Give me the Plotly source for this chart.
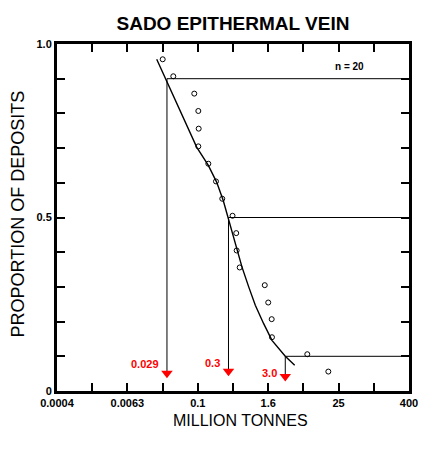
import math
import plotly.graph_objects as go

# ---- data ----
deposit_tonnage = [0.0257, 0.0390, 0.0891, 0.1045, 0.106, 0.1045, 0.155, 0.2095, 0.2685,
                   0.402, 0.465, 0.473, 0.533, 1.43, 1.64, 1.88, 1.90, 7.64, 17.5]
deposit_proportion = [0.956, 0.907, 0.857, 0.807, 0.756, 0.705, 0.655, 0.604, 0.554,
                      0.505, 0.455, 0.405, 0.356, 0.305, 0.255, 0.207, 0.155, 0.106, 0.056]

curve_tonnage = [0.0203, 0.0292, 0.0446, 0.0661, 0.0979, 0.155, 0.215, 0.279, 0.343,
                 0.448, 0.584, 0.760, 0.986, 1.37, 1.90, 3.21, 4.65]
curve_proportion = [0.956, 0.897, 0.828, 0.765, 0.703, 0.650, 0.602, 0.549, 0.497,
                    0.425, 0.357, 0.300, 0.247, 0.194, 0.146, 0.100, 0.074]

percentile_levels = [0.9, 0.5, 0.1]
percentile_tonnage = [0.0304, 0.343, 3.21]
percentile_labels = ["0.029", "0.3", "3.0"]
arrow_proportion = [0.051, 0.057, 0.042]
label_proportion = [0.077, 0.080, 0.052]

x_tick_vals = [0.0004, 0.0016, 0.0064, 0.0256, 0.1024, 0.4096, 1.6384, 6.5536,
               26.2144, 104.8576, 419.4304]
x_tick_text = ["0.0004", "", "0.0063", "", "0.1", "", "1.6", "", "25", "", "400"]
y_tick_vals = [0, 0.1, 0.2, 0.3, 0.4, 0.5, 0.6, 0.7, 0.8, 0.9, 1.0]
y_tick_text = ["0", "", "", "", "", "0.5", "", "", "", "", "1.0"]

n_deposits = 20
title_text = "SADO EPITHERMAL VEIN"
x_title = "MILLION TONNES"
y_title = "PROPORTION OF DEPOSITS"

FONT = "Arial, Liberation Sans, sans-serif"
x_max = x_tick_vals[-1]


def bold(labels):
    return ["<b>%s</b>" % t if t else "" for t in labels]


fig = go.Figure()

# percentile construction lines
for lvl, xt in zip(percentile_levels, percentile_tonnage):
    fig.add_trace(go.Scatter(x=[xt, x_max], y=[lvl, lvl], mode="lines",
                             line=dict(color="black", width=1), hoverinfo="skip",
                             showlegend=False))
for lvl, xt, ya in zip(percentile_levels, percentile_tonnage, arrow_proportion):
    fig.add_trace(go.Scatter(x=[xt, xt], y=[lvl, ya], mode="lines",
                             line=dict(color="black", width=1), hoverinfo="skip",
                             showlegend=False))

# fitted curve
fig.add_trace(go.Scatter(x=curve_tonnage, y=curve_proportion, mode="lines",
                         line=dict(color="black", width=1.4), showlegend=False))

# observed deposits
fig.add_trace(go.Scatter(x=deposit_tonnage, y=deposit_proportion, mode="markers",
                         marker=dict(symbol="circle-open", size=5, color="black",
                                     line=dict(width=1, color="black")),
                         showlegend=False))

# red arrow heads
fig.add_trace(go.Scatter(x=percentile_tonnage, y=arrow_proportion, mode="markers",
                         marker=dict(symbol="triangle-down", size=10, color="#ff0000"),
                         showlegend=False))

annotations = []
for xt, yl, txt in zip(percentile_tonnage, label_proportion, percentile_labels):
    annotations.append(dict(x=math.log10(xt), y=yl, xref="x", yref="y",
                            text="<b>" + txt + "</b>",
                            showarrow=False, xanchor="right", yanchor="middle", xshift=-6,
                            font=dict(family=FONT, size=11, color="#ff0000")))

annotations.append(dict(x=0.832, y=0.934, xref="paper", yref="paper",
                        text="<b>n = %d</b>" % n_deposits, showarrow=False,
                        xanchor="center", yanchor="middle",
                        font=dict(family=FONT, size=10, color="black")))
annotations.append(dict(x=-0.111, y=0.5115, xref="paper", yref="paper",
                        text=y_title, showarrow=False, textangle=-90,
                        xanchor="center", yanchor="middle",
                        font=dict(family=FONT, size=18, color="black")))
annotations.append(dict(x=0.520, y=-0.0836, xref="paper", yref="paper",
                        text=x_title, showarrow=False,
                        xanchor="center", yanchor="middle",
                        font=dict(family=FONT, size=16, color="black")))

# the page body adds an 8px offset, so margins are shifted by 8px
fig.update_layout(
    width=436, height=449,
    margin=dict(l=49, r=35, t=36, b=66),
    paper_bgcolor="white", plot_bgcolor="white",
    title=dict(text="<b>" + title_text + "</b>", x=0.516, y=0.9666,
               xanchor="center", yanchor="middle",
               font=dict(family=FONT, size=19, color="black")),
    annotations=annotations,
    showlegend=False,
)

fig.update_xaxes(type="log", range=[math.log10(x_tick_vals[0]), math.log10(x_max)],
                 tickvals=x_tick_vals, ticktext=bold(x_tick_text),
                 ticks="inside", ticklen=8, tickwidth=2, tickcolor="black",
                 showline=True, linewidth=3, linecolor="black", mirror="ticks",
                 showgrid=False, zeroline=False,
                 tickfont=dict(family=FONT, size=11, color="black"))
fig.update_yaxes(range=[0, 1], tickvals=y_tick_vals,
                 ticktext=bold(y_tick_text),
                 ticks="inside", ticklen=8, tickwidth=2, tickcolor="black",
                 showline=True, linewidth=3, linecolor="black", mirror="ticks",
                 showgrid=False, zeroline=False,
                 tickfont=dict(family=FONT, size=11, color="black"))

fig.write_html("out.html")
